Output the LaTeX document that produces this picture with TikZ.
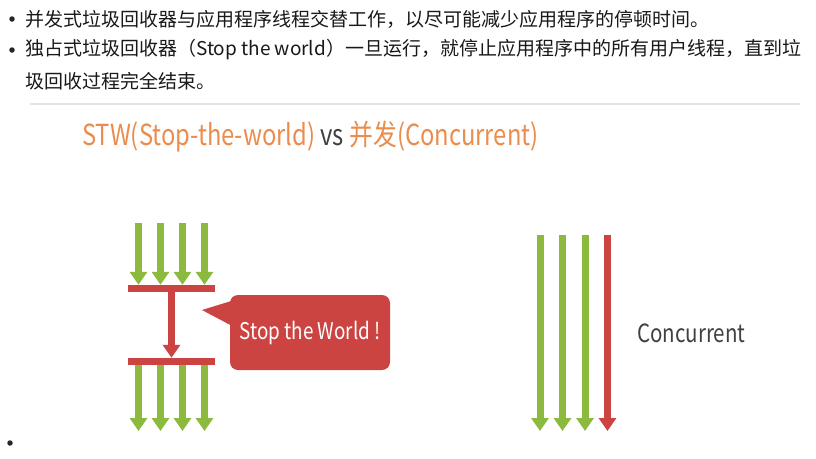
\documentclass[tikz,border=0pt]{standalone}
\usepackage{fontspec}
\setmainfont{Noto Sans CJK SC}
\newfontfamily\narrowfont[FakeStretch=0.82]{Noto Sans CJK SC}
\usetikzlibrary{arrows.meta,positioning,calc}

\definecolor{stwgreen}{RGB}{140,186,62}
\definecolor{stwred}{RGB}{204,68,66}
\definecolor{titleorange}{RGB}{236,140,76}
\definecolor{textgray}{RGB}{64,64,64}
\definecolor{rulegray}{RGB}{228,228,228}

\begin{document}
\begin{tikzpicture}[
  x=1pt, y=-1pt,
  bullet/.style={circle, fill=black!85, inner sep=0pt, minimum size=5.5pt},
  txt/.style={anchor=west, inner sep=0pt, font=\fontsize{19}{22}\selectfont, text=black!90},
  bar/.style={fill=stwred, inner sep=0pt, minimum width=87pt, minimum height=7pt},
  garr/.style={draw=stwgreen, line width=7pt, -{Triangle[width=17pt,length=13pt]}},
  rarr/.style={draw=stwred, line width=7pt, -{Triangle[width=17pt,length=13pt]}},
  callout/.style={fill=stwred, rounded corners=8pt, minimum width=160pt, minimum height=75pt,
    text=white, font=\narrowfont\fontsize{23}{26}\selectfont}
]
  \useasboundingbox[fill=white] (0,0) rectangle (816,458);

  % Bullet list
  \node[bullet] (b1) at (12,19) {};
  \node[txt] (t1) at (25,19) {并发式垃圾回收器与应用程序线程交替工作，以尽可能减少应用程序的停顿时间。};
  \node[bullet] (b2) at (12,50) {};
  \node[txt] (t2) at (25,50) {独占式垃圾回收器（Stop the world）一旦运行，就停止应用程序中的所有用户线程，直到垃};
  \node[txt] (t3) at (25,81) {圾回收过程完全结束。};
  \draw[rulegray, line width=1.5pt] (30,104) -- (800,104);

  % Title
  \node[anchor=west, inner sep=0pt, font=\narrowfont\fontsize{29}{32}\selectfont, text=titleorange] (title) at (82,137)
    {STW(Stop-the-world) \textcolor{textgray}{vs} 并发(Concurrent)};

  % STW side
  \node[bar] (bar1) at (171.5,288.5) {};
  \node[bar] (bar2) at (171.5,361.5) {};
  \foreach \i/\x in {1/138.5,2/160.5,3/182.5,4/204.5} {
    \coordinate (top\i) at (\x,223);
    \coordinate (bot\i) at (\x,431);
    \draw[garr] (top\i) -- (top\i |- bar1.north);
    \draw[garr] (top\i |- bar2.south) -- (bot\i);
  }
  \draw[rarr] (bar1.south) -- (bar2.north);

  % Callout
  \node[callout] (stw) at (310,332.5) {Stop the World !};
  \coordinate (tip) at (202,310);
  \fill[stwred] ($(stw.north west)+(2,6)$) -- (tip) -- ($(stw.north west)+(2,31)$) -- cycle;

  % Concurrent side
  \foreach \i/\x in {1/540,2/562.5,3/585} {
    \coordinate (cs\i) at (\x,235);
    \coordinate (ce\i) at (\x,431);
    \draw[garr] (cs\i) -- (ce\i);
  }
  \coordinate (cs4) at (607.5,235);
  \coordinate (ce4) at (607.5,431);
  \draw[rarr] (cs4) -- (ce4);
  \node[anchor=west, inner sep=0pt, font=\narrowfont\fontsize{25}{28}\selectfont, text=textgray] (conc) at (637,333) {Concurrent};

  \node[bullet] (b3) at (10,443) {};
\end{tikzpicture}
\end{document}
